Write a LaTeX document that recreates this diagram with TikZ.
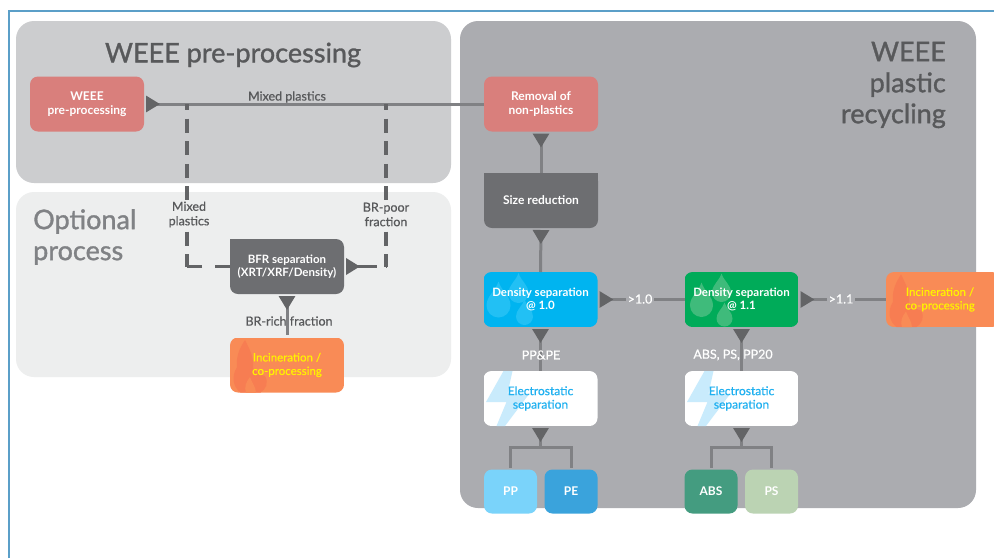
\documentclass[tikz,border=0pt]{standalone}
\usepackage{fontspec}
\setmainfont{Lato}
\newfontfamily\titlefont[FakeBold=1.2]{Lato}
\newfontfamily\labfont[FakeBold=0.5]{Lato}
\usetikzlibrary{arrows.meta,calc}
\definecolor{frameblue}{HTML}{5B9FC8}
\definecolor{panelA}{HTML}{CCCDCF}
\definecolor{panelB}{HTML}{EDEEEE}
\definecolor{panelC}{HTML}{ABACB0}
\definecolor{salmon}{HTML}{D97F7C}
\definecolor{slate}{HTML}{6D6E71}
\definecolor{inkdark}{HTML}{58595B}
\definecolor{inkmid}{HTML}{808285}
\definecolor{linegrey}{HTML}{808184}
\definecolor{tipgrey}{HTML}{636466}
\definecolor{burn}{HTML}{F98B56}
\definecolor{burndark}{HTML}{F77D52}
\definecolor{cyanbox}{HTML}{00B4F0}
\definecolor{cyandrop}{HTML}{22C0F4}
\definecolor{greenbox}{HTML}{00AB59}
\definecolor{greendrop}{HTML}{3FBB7B}
\definecolor{bolt}{HTML}{C9EBFC}
\definecolor{elec}{HTML}{1FB0F0}
\definecolor{ppc}{HTML}{7AD3FA}
\definecolor{pec}{HTML}{3AA3DC}
\definecolor{absc}{HTML}{449C80}
\definecolor{psc}{HTML}{BBD3B3}
\newcommand{\dropshape}[3]{% x, y, r
  \fill (#1,#2-2*#3) .. controls (#1+0.25*#3,#2-1.2*#3) and (#1+#3,#2-0.8*#3) .. (#1+#3,#2)
    .. controls (#1+#3,#2+0.55*#3) and (#1+0.55*#3,#2+#3) .. (#1,#2+#3)
    .. controls (#1-0.55*#3,#2+#3) and (#1-#3,#2+0.55*#3) .. (#1-#3,#2)
    .. controls (#1-#3,#2-0.8*#3) and (#1-0.25*#3,#2-1.2*#3) .. (#1,#2-2*#3) -- cycle;}
% centre x, centre y, width, height, colour, drawing relative to the centre
\newcommand{\decobox}[6]{%
  \begin{scope}
    \clip[rounded corners=8pt] (#1-#3/2,#2-#4/2) rectangle (#1+#3/2,#2+#4/2);
    \fill[#5] (#1-#3/2,#2-#4/2) rectangle (#1+#3/2,#2+#4/2);
    \begin{scope}[shift={(#1,#2)}]#6\end{scope}
  \end{scope}}
\newcommand{\flamefig}{%
  \fill[burndark] (-42,-25) .. controls (-37,-15) and (-33,-8) .. (-34,3)
    .. controls (-31,8) and (-26,10) .. (-22,11)
    .. controls (-18,18) and (-21,24) .. (-27,28) -- (-46,28)
    .. controls (-54,22) and (-56,12) .. (-50,2)
    .. controls (-51,-8) and (-48,-16) .. (-42,-25) -- cycle;
  \fill[burn] (-41,28) .. controls (-43,22) and (-41,17) .. (-37,12)
    .. controls (-35,18) and (-31,22) .. (-31,28) -- cycle;}
\newcommand{\boltfig}{%
  \fill[bolt] (-37,-27.5) -- (-28,-27.5) -- (-33,-5) -- (-11,-5) -- (-35.5,27.5) -- (-44,27.5) -- (-34,3.5) -- (-54.5,3.5) -- cycle;}
\tikzset{
  x=1pt,y=-1pt,
  panel/.style={rounded corners=18pt},
  box/.style={rectangle,rounded corners=8pt,inner sep=0pt,outer sep=0pt,minimum width=114pt,minimum height=55pt,align=center,text=white,
    font=\fontsize{12}{13.5}\selectfont\bfseries},
  lowered/.style={execute at begin node={\rule{0pt}{12pt}}},
  overlay text/.style={box,lowered,font=\fontsize{11.5}{13.5}\labfont},
  product/.style={box,minimum width=53pt,minimum height=44pt,font=\fontsize{12}{14}\selectfont\bfseries},
  title/.style={text=inkdark,align=right,inner sep=0pt,font=\fontsize{27}{31}\titlefont},
  lab/.style={inner sep=0pt,align=center,text=inkdark,font=\fontsize{12.5}{14.5}\labfont},
  wlab/.style={lab,text=white},
  flow/.style={draw=linegrey,line width=3pt,shorten <=2pt,{Triangle[reversed,length=14pt,width=16pt,fill=tipgrey,color=tipgrey]}-},
  plainflow/.style={draw=linegrey,line width=3pt},
  dashflowA/.style={draw=tipgrey,line width=3.5pt,dash pattern=on 14pt off 8.6pt},
}
\begin{document}
\begin{tikzpicture}
\useasboundingbox (0,0) rectangle (994,558);
\fill[white] (0,0) rectangle (994,558);
\draw[frameblue,line width=1.5pt] (9,558) -- (9,11) -- (994,11);
\fill[panelA,panel] (16,21) rectangle (451,183);
\fill[panelB,panel] (16,192) rectangle (451,377);
\fill[panelC,panel] (460,21) rectangle (976,508);

\node[title] (t1) at (233,55) {WEEE pre-processing};
\node[title,anchor=east] (t2) at (946,85) {WEEE\\plastic\\recycling};
\node[title,anchor=west,align=left,text=inkmid] (t3) at (33,237) {Optional\\process};

\node[box,fill=salmon] (wp) at (87,104) {WEEE\\pre-processing};
\node[box,fill=salmon] (rm) at (541,104) {Removal of\\non-plastics};
\node[box,fill=slate] (sr) at (541,200.5) {Size reduction};
\fill[slate] (sr.north west) rectangle ++(10,10);
\fill[slate] (sr.north east) rectangle ++(-10,10);
\node[box,lowered,fill=slate,font=\fontsize{11.5}{13.5}\selectfont\bfseries] (bf) at (287,266.5) {BFR separation\\(XRT/XRF/Density)};
\fill[slate] (bf.north west) rectangle ++(10,10);

\decobox{540.5}{299.5}{114}{55}{cyanbox}{\begin{scope}[cyandrop]\dropshape{-42}{6}{12}\dropshape{-22}{-6.5}{10}\dropshape{-16}{17}{8.5}\end{scope}}
\node[overlay text,font=\fontsize{11.5}{13.5}\selectfont\bfseries] (d1) at (540.5,299.5) {Density separation\\@ 1.0};
\decobox{741.5}{299.5}{114}{55}{greenbox}{\begin{scope}[greendrop]\dropshape{-40}{6}{11.5}\dropshape{-20}{-7}{9.5}\dropshape{-17}{19}{8}\end{scope}}
\node[overlay text,font=\fontsize{11.5}{13.5}\selectfont\bfseries] (d2) at (741.5,299.5) {Density separation\\@ 1.1};
\decobox{943}{299.5}{114}{55}{burn}{\flamefig}
\node[overlay text,text=yellow,minimum width=108pt] (i2) at (940,299.5) {Incineration /\\co-processing};
\decobox{287}{365}{114}{55}{burn}{\flamefig}
\node[overlay text,text=yellow] (i1) at (287,365) {Incineration /\\co-processing};
\decobox{540.5}{398.5}{114}{55}{white}{\boltfig}
\node[overlay text,text=elec,font=\fontsize{12}{13.5}\labfont] (e1) at (540.5,398.5) {Electrostatic\\separation};
\decobox{741.5}{398.5}{114}{55}{white}{\boltfig}
\node[overlay text,text=elec,font=\fontsize{12}{13.5}\labfont] (e2) at (741.5,398.5) {Electrostatic\\separation};

\node[product,fill=ppc] (pp) at (510.5,491.5) {PP};
\node[product,fill=pec] (pe) at (571,491.5) {PE};
\node[product,fill=absc] (ab) at (711,491.5) {ABS};
\node[product,fill=psc] (ps) at (771.5,491.5) {PS};

\coordinate (ja) at (187,104);
\coordinate (jb) at (386,104);
\coordinate (ca) at (187,266.5);
\coordinate (cb) at (386,266.5);
\coordinate (j1) at (540.5,447);
\coordinate (j2) at (741.5,447);

% solid connectors
\draw[flow] (wp.east) -- (rm.west);
\draw[flow] (rm.south) -- (sr.north);
\draw[flow] (sr.south) -- (d1.north);
\draw[flow] (d1.south) -- (e1.north);
\draw[flow] (d2.south) -- (e2.north);
\draw[flow] (d1.east) -- (d2.west);
\draw[flow] (d2.east) -- (i2.west);
\draw[flow] (bf.south) -- ($(i1.north)+(0,-3)$);
\draw[flow] (e1.south) -- (j1);
\draw[flow] (e2.south) -- (j2);
\draw[plainflow] ($(pp.north)+(0,-2)$) |- (j1) -| ($(pe.north)+(0,-2)$);
\draw[plainflow] ($(ab.north)+(0,-2)$) |- (j2) -| ($(ps.north)+(0,-2)$);

% dashed connectors
\draw[dashflowA,dash phase=8pt] (ja) -- (ca);
\draw[dashflowA,dash phase=8pt] (jb) -- (cb);
\draw[draw=tipgrey,line width=3.5pt,dash pattern=on 15pt off 13pt on 15pt off 0pt] (bf.west) -- (ca);
\draw[draw=tipgrey,line width=3.5pt,shorten <=2pt,dash pattern=on 21pt off 9pt on 13pt off 0pt,{Triangle[reversed,length=14pt,width=16pt,fill=tipgrey,color=tipgrey]}-] (bf.east) -- (cb);

% labels
\node[lab] (l1) at (287,97) {Mixed plastics};
\node[lab,fill=panelB,inner sep=1pt] (l2) at (189,214.5) {Mixed\\plastics};
\node[lab,fill=panelB,inner sep=1pt] (l3) at (386,214.5) {BR-poor\\fraction};
\node[lab] (l4) at (289,321) {BR-rich fraction};
\node[wlab] (l5) at (541,355) {PP\&PE};
\node[wlab] (l6) at (733,355) {ABS, PS, PP20};
\node[wlab,fill=panelC,inner sep=2pt] (l7) at (640,299) {>1.0};
\node[wlab,fill=panelC,inner sep=2pt] (l8) at (841,299) {>1.1};
\end{tikzpicture}
\end{document}
